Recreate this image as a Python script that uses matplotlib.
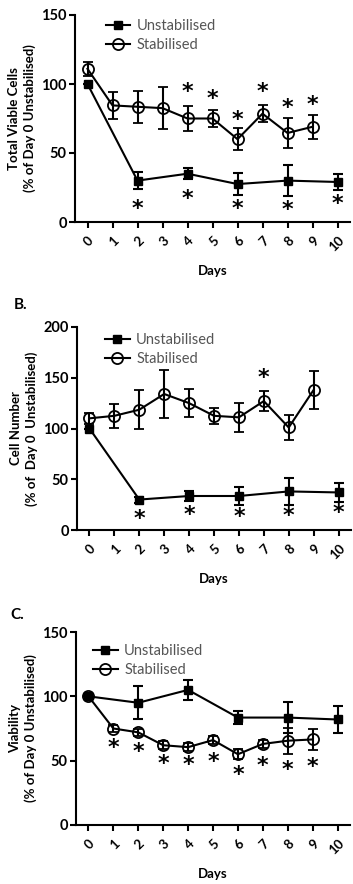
import numpy as np
import matplotlib
matplotlib.use('Agg')
import matplotlib.pyplot as plt
from matplotlib.lines import Line2D

plt.rcParams['font.family'] = ['Lato', 'DejaVu Sans']

# * ----- Data ---------------------------------------------------------------
days = [0, 1, 2, 3, 4, 5, 6, 7, 8, 9, 10]

# Panel A - Total viable cells
a_unstab_days = [0, 2, 4, 6, 8, 10]
a_unstab = [100, 30, 35, 27.5, 30, 29]
a_unstab_err = [0, 6, 4, 8, 11, 6]
a_stab_days = [0, 1, 2, 3, 4, 5, 6, 7, 8, 9]
a_stab = [111, 84.5, 83.5, 82.5, 75, 75, 60, 78.5, 64.5, 69]
a_stab_err = [5, 10, 11.5, 15, 9, 6, 8, 6, 11, 8.5]
a_star_days = [4, 5, 6, 7, 8, 9, 2, 4, 6, 8, 10]
a_star_y = [94, 89, 74, 94, 82.5, 85, 9.5, 17, 9.5, 8.5, 13]

# Panel B - Cell number
b_unstab_days = [0, 2, 4, 6, 8, 10]
b_unstab = [100, 30, 33.5, 33.5, 38, 37]
b_unstab_err = [0, 3, 5, 9, 13, 9.5]
b_stab_days = [0, 1, 2, 3, 4, 5, 6, 7, 8, 9]
b_stab = [110, 112.5, 118.5, 134, 125, 112.5, 111, 127, 101, 138]
b_stab_err = [5.5, 12, 19, 24, 14, 8, 14, 10, 12.5, 19]
b_star_days = [7, 2, 4, 6, 8, 10]
b_star_y = [150, 11, 15, 12.5, 14, 17]

# Panel C - Viability
c_unstab_days = [0, 2, 4, 6, 8, 10]
c_unstab = [100, 95, 105, 83.5, 83.5, 82]
c_unstab_err = [0, 13, 8, 5, 12, 10.5]
c_stab_days = [0, 1, 2, 3, 4, 5, 6, 7, 8, 9]
c_stab = [100, 75, 72, 62, 60.5, 66, 55, 63, 65.5, 66.5]
c_stab_err = [0, 3, 3, 3, 3, 3, 4, 3, 10, 8.5]
c_star_days = [1, 2, 3, 4, 5, 6, 7, 8, 9]
c_star_y = [59.5, 57, 47.5, 46.5, 49, 39, 45.5, 43, 45]

W, H = 353, 884


def add_axes_px(fig, left, top, right, bottom):
    return fig.add_axes([left / W, 1 - bottom / H, (right - left) / W, (bottom - top) / H])


def draw_panel(ax, ud, u, ue, sd, s, se, star_d, star_y, ymax, ylabel, leg_xy):
    ax.errorbar(ud, u, yerr=ue, color='black', lw=1.5, marker='s', ms=5.5,
                mfc='black', mec='black', capsize=3.5, capthick=1.5, elinewidth=1.5,
                zorder=3)
    ax.errorbar(sd, s, yerr=se, color='black', lw=1.5, marker='o', ms=8,
                mfc='none', mec='black', mew=1.3, capsize=3.5, capthick=1.5, elinewidth=1.5,
                zorder=3)
    for d, y in zip(star_d, star_y):
        ax.text(d, y, '*', ha='center', va='center', fontsize=16, fontweight='bold',
                fontfamily='DejaVu Sans', transform=ax.transData)
    ax.set_xlim(-0.5, 10.5)
    ax.set_ylim(0, ymax)
    ax.set_xticks(days)
    ax.set_xticklabels([str(d) for d in days], rotation=45, ha='right',
                       rotation_mode='anchor', fontweight='bold', fontsize=9.5)
    ax.set_yticks(np.arange(0, ymax + 1, 50))
    for lab in ax.get_yticklabels():
        lab.set_fontweight('bold')
        lab.set_fontsize(10.5)
    for sp in ['top', 'right']:
        ax.spines[sp].set_visible(False)
    for sp in ['left', 'bottom']:
        ax.spines[sp].set_linewidth(1.5)
    ax.tick_params(width=1.5, length=4, pad=2)
    ax.tick_params(axis='x', pad=5)
    ax.set_ylabel(ylabel, fontsize=9.5, fontweight='bold', linespacing=1.25, labelpad=4)
    ax.set_xlabel('Days', fontsize=9.5, fontweight='bold', labelpad=8)
    handles = [
        Line2D([], [], color='black', lw=1.5, marker='s', ms=5.5, mfc='black'),
        Line2D([], [], color='black', lw=1.5, marker='o', ms=8, mfc='none', mew=1.3),
    ]
    leg = ax.legend(handles, ['Unstabilised', 'Stabilised'], loc='upper left',
                    bbox_to_anchor=leg_xy, frameon=False,
                    fontsize=10.5, handlelength=1.7, handletextpad=0.45,
                    labelspacing=0.35, borderaxespad=0)
    for t in leg.get_texts():
        t.set_color('#555555')


fig = plt.figure(figsize=(W / 100, H / 100), dpi=100)

ax_a = add_axes_px(fig, 75, 15, 350, 222)
draw_panel(ax_a, a_unstab_days, a_unstab, a_unstab_err, a_stab_days, a_stab, a_stab_err,
           a_star_days, a_star_y, 150,
           'Total Viable Cells\n(% of Day 0 Unstabilised)', (0.09, 1.01))

ax_b = add_axes_px(fig, 77, 327, 351, 530)
draw_panel(ax_b, b_unstab_days, b_unstab, b_unstab_err, b_stab_days, b_stab, b_stab_err,
           b_star_days, b_star_y, 200,
           'Cell Number\n(% of  Day 0  Unstabilised)', (0.08, 1.0))

ax_c = add_axes_px(fig, 76, 632, 350, 825)
draw_panel(ax_c, c_unstab_days, c_unstab, c_unstab_err, c_stab_days, c_stab, c_stab_err,
           c_star_days, c_star_y, 150,
           'Viability\n(% of Day 0 Unstabilised)', (0.04, 0.97))

fig.text(14 / W, 1 - 305 / H, 'B.', fontsize=11, fontweight='bold', va='center')
fig.text(10 / W, 1 - 615 / H, 'C.', fontsize=11, fontweight='bold', va='center')

fig.savefig('out.png', dpi=100)
